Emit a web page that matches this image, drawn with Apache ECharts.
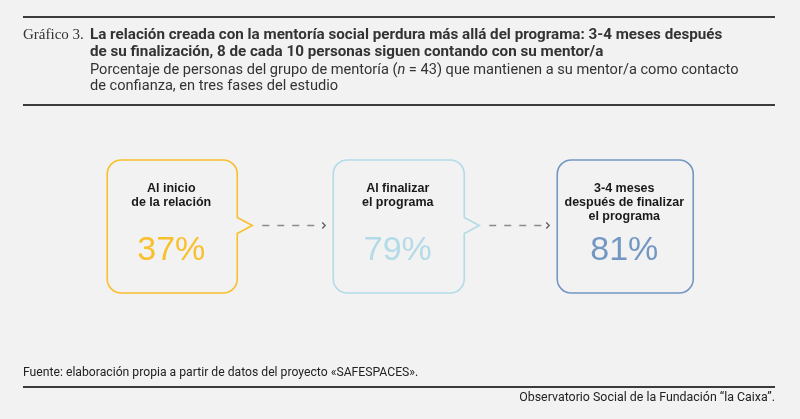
<!DOCTYPE html>
<html>
<head>
<meta charset="utf-8">
<script src="https://cdn.jsdelivr.net/npm/echarts@6/dist/echarts.min.js"></script>
<style>
  html, body { margin: 0; padding: 0; background: #f2f2f2; }
  #chart { width: 800px; height: 419px; }
</style>
</head>
<body>
<div id="chart"></div>
<script>
// fases del estudio y % que mantiene al mentor/a como contacto de confianza
const phases = ['Al inicio\nde la relación', 'Al finalizar\nel programa', '3-4 meses\ndespués de finalizar\nel programa'];
const shares = [37, 79, 81];

const colors = ['#f9bf2c', '#b4dbe8', '#7397c2'];
const halfWidths = [65, 65.5, 68];
const lineColor = '#3d3b3a';

const chart = echarts.init(document.getElementById('chart'), null, { renderer: 'canvas' });

function bubblePath(x0, y0, x1, y1, r, tail) {
  const ty = (y0 + y1) / 2 - 1;
  let d = 'M' + (x0 + r) + ' ' + y0 + ' H' + (x1 - r) +
    ' A' + r + ' ' + r + ' 0 0 1 ' + x1 + ' ' + (y0 + r);
  if (tail) {
    d += ' V' + (ty - 8) + ' L' + (x1 + 15) + ' ' + ty + ' L' + x1 + ' ' + (ty + 8);
  }
  d += ' V' + (y1 - r) + ' A' + r + ' ' + r + ' 0 0 1 ' + (x1 - r) + ' ' + y1 +
    ' H' + (x0 + r) + ' A' + r + ' ' + r + ' 0 0 1 ' + x0 + ' ' + (y1 - r) +
    ' V' + (y0 + r) + ' A' + r + ' ' + r + ' 0 0 1 ' + (x0 + r) + ' ' + y0 + ' Z';
  return d;
}

function renderBox(params, api) {
  const i = params.dataIndex;
  const bottom = api.coord([i, 0]);
  const top = api.coord([i, 1]);
  const cx = bottom[0];
  const hw = halfWidths[i];
  const x0 = cx - hw, x1 = cx + hw;
  const y0 = top[1], y1 = bottom[1];
  const hasTail = i < shares.length - 1;
  const children = [{
    type: 'path',
    shape: { pathData: bubblePath(x0, y0, x1, y1, 14, hasTail) },
    style: { fill: 'none', stroke: colors[i], lineWidth: 1.6 }
  }, {
    type: 'text',
    style: {
      text: phases[i], x: cx - 1, y: y0 + 22, align: 'center', verticalAlign: 'top',
      fontFamily: 'Liberation Sans, Arial, sans-serif', fontWeight: 'bold', fontSize: 12.5,
      lineHeight: 14, fill: '#1a1a1a'
    }
  }, {
    type: 'text',
    style: {
      text: api.value(1) + '%', x: cx - 1, y: y0 + 91, align: 'center', verticalAlign: 'middle',
      fontFamily: 'Liberation Sans, Arial, sans-serif', fontSize: 34, fill: colors[i]
    }
  }];
  if (hasTail) {
    const nx = api.coord([i + 1, 0])[0] - halfWidths[i + 1];
    const ty = (y0 + y1) / 2 - 1;
    const ax0 = x1 + 25, ax1 = nx - 8;
    children.push({
      type: 'line',
      shape: { x1: ax0, y1: ty, x2: ax1 - 3, y2: ty },
      style: { stroke: '#8a8a8a', lineWidth: 1.5, lineDash: [7, 8] }
    }, {
      type: 'polyline',
      shape: { points: [[ax1 - 3, ty - 3], [ax1, ty], [ax1 - 3, ty + 3]] },
      style: { fill: 'none', stroke: '#555', lineWidth: 1.2 }
    });
  }
  return { type: 'group', children: children };
}

const titleFont = 'Roboto, sans-serif';

chart.setOption({
  backgroundColor: '#f2f2f2',
  animation: false,
  grid: { left: 59, right: 61.5, top: 160, bottom: 126 },
  xAxis: { type: 'category', data: phases, show: false },
  yAxis: { type: 'value', min: 0, max: 1, show: false },
  series: [{
    type: 'custom',
    renderItem: renderBox,
    data: shares.map((v, i) => [i, v]),
    encode: { x: 0, y: 1 },
    silent: true
  }],
  graphic: [
    { type: 'line', shape: { x1: 23, y1: 17, x2: 775, y2: 17 }, style: { stroke: lineColor, lineWidth: 2 } },
    { type: 'line', shape: { x1: 23, y1: 105, x2: 775, y2: 105 }, style: { stroke: lineColor, lineWidth: 2 } },
    { type: 'line', shape: { x1: 23, y1: 387, x2: 775, y2: 387 }, style: { stroke: lineColor, lineWidth: 2 } },
    {
      type: 'text', left: 23, top: 28,
      style: { text: 'Gráfico 3.', font: '15px "Liberation Serif", serif', fill: '#333' }
    },
    {
      type: 'text', left: 90, top: 27,
      style: {
        text: 'La relación creada con la mentoría social perdura más allá del programa: 3-4 meses después\nde su finalización, 8 de cada 10 personas siguen contando con su mentor/a',
        fontFamily: titleFont, fontWeight: 'bold', fontSize: 15.2, lineHeight: 17, fill: '#333'
      }
    },
    {
      type: 'text', left: 90, top: 62,
      style: {
        text: 'Porcentaje de personas del grupo de mentoría ({i|n} = 43) que mantienen a su mentor/a como contacto\nde confianza, en tres fases del estudio',
        fontFamily: titleFont, fontSize: 14.6, lineHeight: 16, fill: '#333',
        rich: { i: { fontFamily: titleFont, fontStyle: 'italic', fontSize: 14.6, fill: '#333' } }
      }
    },
    {
      type: 'text', left: 23, top: 367,
      style: { text: 'Fuente: elaboración propia a partir de datos del proyecto «SAFESPACES».', fontFamily: titleFont, fontSize: 12.2, fill: '#222' }
    },
    {
      type: 'text', right: 25, top: 392,
      style: { text: 'Observatorio Social de la Fundación “la Caixa”.', fontFamily: titleFont, fontSize: 12.4, fill: '#222' }
    }
  ]
});
</script>
</body>
</html>
